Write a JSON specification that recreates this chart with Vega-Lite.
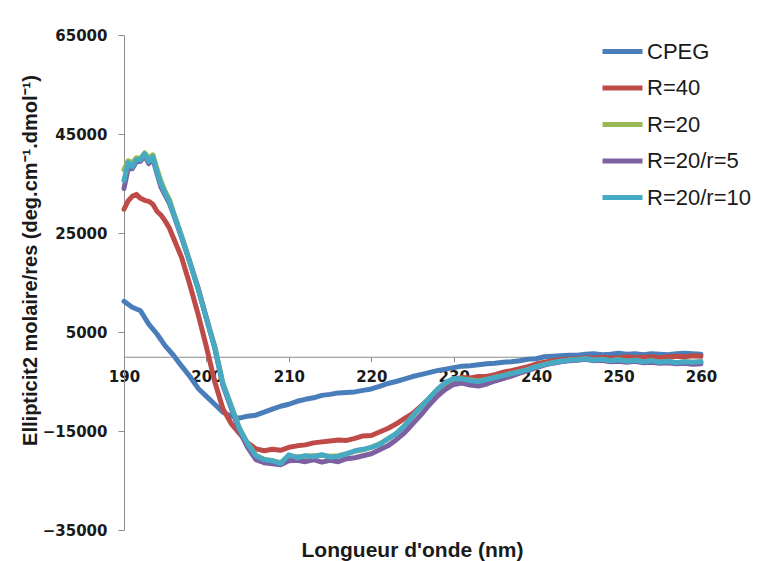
{
  "$schema": "https://vega.github.io/schema/vega-lite/v6.json",
  "width": 577,
  "height": 495,
  "autosize": "none",
  "padding": {"left": 124, "top": 35, "right": 59, "bottom": 31},
  "background": "white",
  "config": {
    "view": {"stroke": null},
    "font": "Liberation Sans"
  },
  "title": {
    "text": "Longueur d'onde (nm)",
    "orient": "bottom",
    "anchor": "middle",
    "font": "Liberation Sans",
    "fontSize": 21,
    "fontWeight": "bold",
    "color": "#1a1a1a",
    "offset": 2
  },
  "data": {
    "values": [
      {"nm":190,"CPEG":11200,"R=40":29800,"R=20":37800,"R=20/r=5":34000,"R=20/r=10":35600},
      {"nm":190.5,"R=40":31500,"R=20":39600,"R=20/r=5":38000,"R=20/r=10":39200},
      {"nm":191,"CPEG":10000,"R=40":32400,"R=20":39200,"R=20/r=5":38000,"R=20/r=10":38400},
      {"nm":191.5,"R=40":32800,"R=20":40200,"R=20/r=5":39400,"R=20/r=10":39800},
      {"nm":192,"CPEG":9300,"R=40":32000,"R=20":40000,"R=20/r=5":39500,"R=20/r=10":39800},
      {"nm":192.5,"R=40":31600,"R=20":41200,"R=20/r=5":40600,"R=20/r=10":41000},
      {"nm":193,"CPEG":6600,"R=40":31400,"R=20":40200,"R=20/r=5":39000,"R=20/r=10":39400},
      {"nm":193.5,"R=40":30800,"R=20":40800,"R=20/r=5":40000,"R=20/r=10":40400},
      {"nm":194,"CPEG":4600,"R=40":29400,"R=20":38000,"R=20/r=5":37000,"R=20/r=10":37400},
      {"nm":194.5,"R=40":28600,"R=20":35400,"R=20/r=5":34200,"R=20/r=10":34800},
      {"nm":195,"CPEG":2200,"R=40":27400,"R=20":33400,"R=20/r=5":32600,"R=20/r=10":33000},
      {"nm":195.5,"R=40":26000,"R=20":31800,"R=20/r=5":31000,"R=20/r=10":31400},
      {"nm":196,"CPEG":300,"R=40":24000,"R=20":29200,"R=20/r=5":28800,"R=20/r=10":29000},
      {"nm":197,"CPEG":-1900,"R=40":20000,"R=20":24400,"R=20/r=5":24000,"R=20/r=10":24200},
      {"nm":198,"CPEG":-4000,"R=40":14500,"R=20":19200,"R=20/r=5":19000,"R=20/r=10":19000},
      {"nm":199,"CPEG":-6400,"R=40":8500,"R=20":13800,"R=20/r=5":13800,"R=20/r=10":13600},
      {"nm":200,"CPEG":-8000,"R=40":2000,"R=20":7800,"R=20/r=5":7800,"R=20/r=10":7600},
      {"nm":201,"CPEG":-9600,"R=40":-5000,"R=20":2200,"R=20/r=5":1800,"R=20/r=10":2000},
      {"nm":202,"CPEG":-11200,"R=40":-10500,"R=20":-5400,"R=20/r=5":-5800,"R=20/r=10":-5500},
      {"nm":203,"CPEG":-12000,"R=40":-13500,"R=20":-9800,"R=20/r=5":-10400,"R=20/r=10":-10000},
      {"nm":204,"CPEG":-12400,"R=40":-15500,"R=20":-14400,"R=20/r=5":-15000,"R=20/r=10":-14500},
      {"nm":205,"CPEG":-12000,"R=40":-17400,"R=20":-17500,"R=20/r=5":-18300,"R=20/r=10":-17600},
      {"nm":206,"CPEG":-11800,"R=40":-18600,"R=20":-19900,"R=20/r=5":-20800,"R=20/r=10":-20000},
      {"nm":207,"CPEG":-11200,"R=40":-19000,"R=20":-20700,"R=20/r=5":-21400,"R=20/r=10":-20800},
      {"nm":208,"CPEG":-10600,"R=40":-18700,"R=20":-21000,"R=20/r=5":-21600,"R=20/r=10":-21000},
      {"nm":209,"CPEG":-10000,"R=40":-18900,"R=20":-21400,"R=20/r=5":-21800,"R=20/r=10":-21600},
      {"nm":210,"CPEG":-9600,"R=40":-18300,"R=20":-20000,"R=20/r=5":-21000,"R=20/r=10":-19800},
      {"nm":211,"CPEG":-9000,"R=40":-18000,"R=20":-20200,"R=20/r=5":-20900,"R=20/r=10":-20400},
      {"nm":212,"CPEG":-8600,"R=40":-17800,"R=20":-20100,"R=20/r=5":-21200,"R=20/r=10":-20000},
      {"nm":213,"CPEG":-8300,"R=40":-17400,"R=20":-20000,"R=20/r=5":-20800,"R=20/r=10":-20200},
      {"nm":214,"CPEG":-7800,"R=40":-17200,"R=20":-19900,"R=20/r=5":-21300,"R=20/r=10":-19800},
      {"nm":215,"CPEG":-7600,"R=40":-17000,"R=20":-20100,"R=20/r=5":-20900,"R=20/r=10":-20300},
      {"nm":216,"CPEG":-7300,"R=40":-16800,"R=20":-20000,"R=20/r=5":-21200,"R=20/r=10":-20100},
      {"nm":217,"CPEG":-7200,"R=40":-16900,"R=20":-19600,"R=20/r=5":-20600,"R=20/r=10":-19600},
      {"nm":218,"CPEG":-7100,"R=40":-16500,"R=20":-19100,"R=20/r=5":-20400,"R=20/r=10":-19000},
      {"nm":219,"CPEG":-6800,"R=40":-16000,"R=20":-18800,"R=20/r=5":-20000,"R=20/r=10":-18700},
      {"nm":220,"CPEG":-6500,"R=40":-15900,"R=20":-18300,"R=20/r=5":-19600,"R=20/r=10":-18300},
      {"nm":221,"CPEG":-6000,"R=40":-15200,"R=20":-17600,"R=20/r=5":-18800,"R=20/r=10":-17700},
      {"nm":222,"CPEG":-5400,"R=40":-14500,"R=20":-16600,"R=20/r=5":-18000,"R=20/r=10":-16600},
      {"nm":223,"CPEG":-5000,"R=40":-13600,"R=20":-15500,"R=20/r=5":-16800,"R=20/r=10":-15600},
      {"nm":224,"CPEG":-4500,"R=40":-12500,"R=20":-14000,"R=20/r=5":-15400,"R=20/r=10":-14000},
      {"nm":225,"CPEG":-4000,"R=40":-11500,"R=20":-12100,"R=20/r=5":-13600,"R=20/r=10":-12000},
      {"nm":226,"CPEG":-3600,"R=40":-10000,"R=20":-10200,"R=20/r=5":-11800,"R=20/r=10":-10200},
      {"nm":227,"CPEG":-3200,"R=40":-8500,"R=20":-8400,"R=20/r=5":-9800,"R=20/r=10":-8400},
      {"nm":228,"CPEG":-2800,"R=40":-6800,"R=20":-6700,"R=20/r=5":-8000,"R=20/r=10":-6600},
      {"nm":229,"CPEG":-2500,"R=40":-5600,"R=20":-5300,"R=20/r=5":-6600,"R=20/r=10":-5200},
      {"nm":230,"CPEG":-2200,"R=40":-4600,"R=20":-4500,"R=20/r=5":-5600,"R=20/r=10":-4400},
      {"nm":231,"CPEG":-1900,"R=40":-4200,"R=20":-4500,"R=20/r=5":-5300,"R=20/r=10":-4500},
      {"nm":232,"CPEG":-1800,"R=40":-4300,"R=20":-4700,"R=20/r=5":-5700,"R=20/r=10":-4800},
      {"nm":233,"CPEG":-1600,"R=40":-4000,"R=20":-4900,"R=20/r=5":-5900,"R=20/r=10":-5000},
      {"nm":234,"CPEG":-1400,"R=40":-4000,"R=20":-4600,"R=20/r=5":-5500,"R=20/r=10":-4600},
      {"nm":235,"CPEG":-1300,"R=40":-3600,"R=20":-4200,"R=20/r=5":-4900,"R=20/r=10":-4200},
      {"nm":236,"CPEG":-1100,"R=40":-3100,"R=20":-3800,"R=20/r=5":-4400,"R=20/r=10":-3800},
      {"nm":237,"CPEG":-1000,"R=40":-2800,"R=20":-3400,"R=20/r=5":-3900,"R=20/r=10":-3400},
      {"nm":238,"CPEG":-800,"R=40":-2400,"R=20":-3000,"R=20/r=5":-3300,"R=20/r=10":-3000},
      {"nm":239,"CPEG":-500,"R=40":-2000,"R=20":-2600,"R=20/r=5":-2800,"R=20/r=10":-2600},
      {"nm":240,"CPEG":-400,"R=40":-1500,"R=20":-2000,"R=20/r=5":-2200,"R=20/r=10":-2000},
      {"nm":241,"CPEG":0,"R=40":-1100,"R=20":-1600,"R=20/r=5":-1700,"R=20/r=10":-1600},
      {"nm":242,"CPEG":100,"R=40":-800,"R=20":-1200,"R=20/r=5":-1300,"R=20/r=10":-1200},
      {"nm":243,"CPEG":200,"R=40":-600,"R=20":-900,"R=20/r=5":-1000,"R=20/r=10":-900},
      {"nm":244,"CPEG":300,"R=40":-500,"R=20":-700,"R=20/r=5":-800,"R=20/r=10":-700},
      {"nm":245,"CPEG":300,"R=40":-400,"R=20":-600,"R=20/r=5":-700,"R=20/r=10":-600},
      {"nm":246,"CPEG":500,"R=40":-200,"R=20":-400,"R=20/r=5":-500,"R=20/r=10":-400},
      {"nm":247,"CPEG":600,"R=40":-300,"R=20":-700,"R=20/r=5":-800,"R=20/r=10":-700},
      {"nm":248,"CPEG":400,"R=40":-100,"R=20":-500,"R=20/r=5":-700,"R=20/r=10":-500},
      {"nm":249,"CPEG":500,"R=40":-300,"R=20":-800,"R=20/r=5":-1000,"R=20/r=10":-800},
      {"nm":250,"CPEG":700,"R=40":-200,"R=20":-600,"R=20/r=5":-900,"R=20/r=10":-600},
      {"nm":251,"CPEG":500,"R=40":0,"R=20":-900,"R=20/r=5":-1100,"R=20/r=10":-900},
      {"nm":252,"CPEG":600,"R=40":-200,"R=20":-700,"R=20/r=5":-900,"R=20/r=10":-700},
      {"nm":253,"CPEG":400,"R=40":-100,"R=20":-1000,"R=20/r=5":-1200,"R=20/r=10":-1000},
      {"nm":254,"CPEG":600,"R=40":0,"R=20":-800,"R=20/r=5":-1100,"R=20/r=10":-800},
      {"nm":255,"CPEG":500,"R=40":-200,"R=20":-1100,"R=20/r=5":-1300,"R=20/r=10":-1100},
      {"nm":256,"CPEG":400,"R=40":0,"R=20":-900,"R=20/r=5":-1200,"R=20/r=10":-900},
      {"nm":257,"CPEG":600,"R=40":100,"R=20":-1200,"R=20/r=5":-1400,"R=20/r=10":-1200},
      {"nm":258,"CPEG":700,"R=40":0,"R=20":-1000,"R=20/r=5":-1300,"R=20/r=10":-1000},
      {"nm":259,"CPEG":600,"R=40":200,"R=20":-1100,"R=20/r=5":-1500,"R=20/r=10":-1100},
      {"nm":260,"CPEG":500,"R=40":100,"R=20":-1000,"R=20/r=5":-1400,"R=20/r=10":-1000}
    ]
  },
  "transform": [
    {"fold": ["CPEG", "R=40", "R=20", "R=20/r=5", "R=20/r=10"], "as": ["serie", "val"]},
    {"filter": "isValid(datum.val)"}
  ],
  "mark": {"type": "line", "strokeWidth": 5, "strokeCap": "round", "strokeJoin": "round"},
  "encoding": {
    "x": {
      "field": "nm",
      "type": "quantitative",
      "scale": {"domain": [190, 260], "nice": false, "zero": false},
      "axis": {
        "title": null,
        "values": [190, 200, 210, 220, 230, 240, 250, 260],
        "offset": -173.25,
        "grid": false,
        "labelFlush": false,
        "domainColor": "#8c8c8c",
        "tickColor": "#8c8c8c",
        "tickSize": 5,
        "labelPadding": 8,
        "labelFont": "DejaVu Sans",
        "labelFontSize": 15,
        "labelFontWeight": "bold",
        "labelColor": "#1a1a1a"
      }
    },
    "y": {
      "field": "val",
      "type": "quantitative",
      "scale": {"domain": [-35000, 65000], "nice": false, "zero": false},
      "axis": {
        "title": "Ellipticit2 molaire/res (deg.cm⁻¹.dmol⁻¹)",
        "values": [-35000, -15000, 5000, 25000, 45000, 65000],
        "format": "d",
        "grid": false,
        "domainColor": "#8c8c8c",
        "tickColor": "#8c8c8c",
        "tickSize": 6,
        "labelPadding": 11,
        "labelFont": "DejaVu Sans",
        "labelFontSize": 15,
        "labelFontWeight": "bold",
        "labelColor": "#1a1a1a",
        "titleFont": "Liberation Sans",
        "titleFontSize": 20,
        "titleFontWeight": "bold",
        "titleColor": "#1a1a1a",
        "titleAngle": -90,
        "titleAlign": "center",
        "titleBaseline": "middle",
        "titleX": -94,
        "titleY": 225
      }
    },
    "color": {
      "field": "serie",
      "type": "nominal",
      "scale": {
        "domain": ["CPEG", "R=40", "R=20", "R=20/r=5", "R=20/r=10"],
        "range": ["#4A7EBB", "#BE4B48", "#98B954", "#7D60A0", "#46AAC5"]
      },
      "legend": {
        "title": null,
        "orient": "none",
        "legendX": 476,
        "legendY": -6,
        "symbolType": "stroke",
        "symbolSize": 1600,
        "symbolStrokeWidth": 5,
        "labelFont": "Liberation Sans",
        "labelFontSize": 22,
        "labelColor": "#1a1a1a",
        "labelOffset": 2,
        "rowPadding": 2.5
      }
    },
    "order": {"field": "nm", "type": "quantitative"}
  }
}
